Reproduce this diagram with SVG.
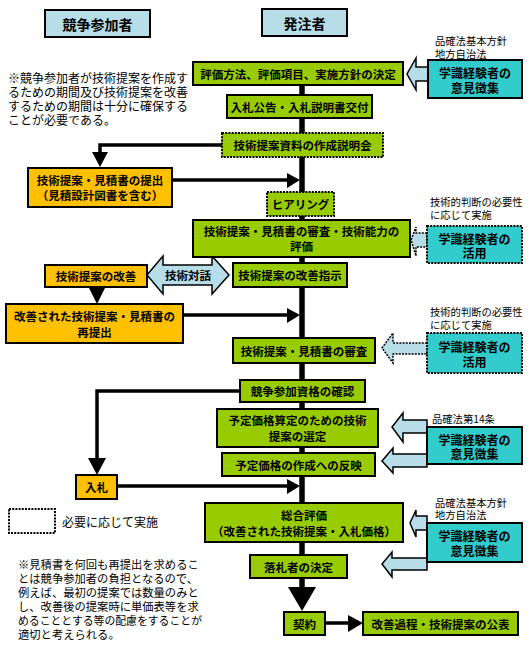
<svg xmlns="http://www.w3.org/2000/svg" width="532" height="650" viewBox="0 0 532 650">
<defs>
<style>
.t{font-family:"Noto Sans CJK JP","Noto Sans CJK SC",sans-serif;fill:#000}
.bt{font-size:11.5px;font-weight:bold;text-anchor:middle;dominant-baseline:central}
.hd{font-size:14px;font-weight:bold;text-anchor:middle;dominant-baseline:central}
.ct{font-size:12px;font-weight:bold;text-anchor:middle;dominant-baseline:central}
.sm{font-size:10.3px}
.nt{font-size:12px}
.nt2{font-size:11.3px}
.g{fill:#99CC00;stroke:#000;stroke-width:2}
.o{fill:#FFC000;stroke:#000;stroke-width:2}
.c{fill:#33CCCC;stroke:#000;stroke-width:2}
.h{fill:#B7DDE8;stroke:#000;stroke-width:2}
.d{stroke-dasharray:2,1.2}
.ba{fill:#B7DDE8;stroke:#000;stroke-width:1.5}
.ln{fill:none;stroke:#000;stroke-width:3.5}
.ah{fill:#000}
</style>
</defs>
<rect width="532" height="650" fill="#fff"/>

<g id="connectors">
<line x1="302" y1="85" x2="302" y2="589" stroke="#000" stroke-width="5.5"/>
<polygon class="ah" points="288,587 316,587 302,611"/>
<path class="ln" d="M222,145 H100 V153" stroke-width="4"/>
<polygon class="ah" points="92,152 108,152 100,167"/>
<path class="ln" d="M172,180 H289"/>
<polygon class="ah" points="287,173 300,180 287,188"/>
<path class="ln" d="M97,287 V290" stroke-width="4"/>
<polygon class="ah" points="89,288 105,288 97,304"/>
<path class="ln" d="M183,315 H289"/>
<polygon class="ah" points="287,308 300,315 287,323"/>
<path class="ln" d="M240,391 H97 V459" stroke-width="4"/>
<polygon class="ah" points="88,458 106,458 97,475"/>
<path class="ln" d="M117,486 H289"/>
<polygon class="ah" points="287,479 300,486 287,494"/>
<path class="ln" d="M325,623 H349"/>
<polygon class="ah" points="348,615 363,623 348,632"/>
<polygon class="ba" points="428,67 416,67 416,58 407,74 416,90 416,81 428,81"/>
<polygon class="ba d" points="427,233 416,233 416,227 411,240 416,256 416,247 427,247"/>
<polygon class="ba d" points="427,343 393,343 393,333 382,348 393,363 393,354 427,354"/>
<polygon class="ba" points="427,420 403,420 403,413 392,427 403,442 403,433 427,433"/>
<polygon class="ba" points="427,454 393,454 393,448 382,461 393,473 393,467 427,467"/>
<polygon class="ba" points="427,516 416,516 416,510 410,523 416,537 416,530 427,530"/>
<polygon class="ba" points="427,558 392,558 392,552 382,564 392,577 392,570 427,570"/>
<polygon class="ba" points="147,275 163,256 163,265 212,265 212,256 229,275 212,294 212,285 163,285 163,294"/>
<text class="t bt" x="188" y="275">技術対話</text>
</g>

<g id="hdr1"><rect class="h" x="45" y="10" width="105" height="27"/><text class="t hd" x="97.5" y="23.5">競争参加者</text></g>
<g id="hdr2"><rect class="h" x="262" y="9" width="85" height="27"/><text class="t hd" x="304.5" y="22.5">発注者</text></g>

<g id="b1"><rect class="g" x="193" y="62" width="210" height="23"/><text class="t bt" x="298" y="73.5">評価方法、評価項目、実施方針の決定</text></g>
<g id="b2"><rect class="g" x="227" y="95" width="145" height="23"/><text class="t bt" x="299.5" y="106.5">入札公告・入札説明書交付</text></g>
<g id="b3"><rect class="g d" x="222" y="133" width="161" height="24"/><text class="t bt" x="302.5" y="145">技術提案資料の作成説明会</text></g>
<g id="b4"><rect class="g d" x="267" y="192" width="67" height="24"/><text class="t bt" x="300.5" y="204">ヒアリング</text></g>
<g id="b5"><rect class="g" x="193" y="220" width="217" height="37"/><text class="t bt" x="301.5" y="231">技術提案・見積書の審査・技術能力の</text><text class="t bt" x="301.5" y="246">評価</text></g>
<g id="b6"><rect class="g" x="233" y="263" width="114" height="24"/><text class="t bt" x="290" y="275">技術提案の改善指示</text></g>
<g id="b7"><rect class="g" x="233" y="338" width="142" height="25"/><text class="t bt" x="304" y="350.5">技術提案・見積書の審査</text></g>
<g id="b8"><rect class="g" x="240" y="380" width="125" height="22"/><text class="t bt" x="302.5" y="391">競争参加資格の確認</text></g>
<g id="b9"><rect class="g" x="217" y="409" width="161" height="38"/><text class="t bt" x="297.5" y="420">予定価格算定のための技術</text><text class="t bt" x="297.5" y="436">提案の選定</text></g>
<g id="b10"><rect class="g" x="222" y="453" width="153" height="23"/><text class="t bt" x="298.5" y="464.5">予定価格の作成への反映</text></g>
<g id="b11"><rect class="g" x="205" y="503" width="198" height="39"/><text class="t bt" x="304" y="514.5">総合評価</text><text class="t bt" x="304" y="530.5">（改善された技術提案・入札価格）</text></g>
<g id="b12"><rect class="g" x="250" y="555" width="97" height="23"/><text class="t bt" x="298.5" y="566.5">落札者の決定</text></g>
<g id="b13"><rect class="g" x="284" y="612" width="41" height="23"/><text class="t bt" x="304.5" y="623.5">契約</text></g>
<g id="b14"><rect class="g" x="363" y="612" width="155" height="23"/><text class="t bt" x="440.5" y="623.5">改善過程・技術提案の公表</text></g>

<g id="o1"><rect class="o" x="28" y="168" width="144" height="39"/><text class="t bt" x="100" y="180">技術提案・見積書の提出</text><text class="t bt" x="100" y="195">（見積設計図書を含む）</text></g>
<g id="o2"><rect class="o" x="45" y="265" width="102" height="22"/><text class="t bt" x="96" y="276">技術提案の改善</text></g>
<g id="o3"><rect class="o" x="6" y="304" width="177" height="39"/><text class="t bt" x="94.5" y="316">改善された技術提案・見積書の</text><text class="t bt" x="94.5" y="332">再提出</text></g>
<g id="o4"><rect class="o" x="76" y="475" width="41" height="24"/><text class="t bt" x="96.5" y="487">入札</text></g>

<g id="c1"><rect class="c" x="428" y="60" width="94" height="38"/><text class="t ct" x="475" y="72.5">学識経験者の</text><text class="t ct" x="475" y="87">意見徴集</text></g>
<g id="c2"><rect class="c d" x="427" y="226" width="95" height="37"/><text class="t ct" x="474.5" y="238">学識経験者の</text><text class="t ct" x="474.5" y="252.5">活用</text></g>
<g id="c3"><rect class="c d" x="427" y="333" width="95" height="40"/><text class="t ct" x="474.5" y="346">学識経験者の</text><text class="t ct" x="474.5" y="361">活用</text></g>
<g id="c4"><rect class="c" x="427" y="427" width="95" height="37"/><text class="t ct" x="474.5" y="439">学識経験者の</text><text class="t ct" x="474.5" y="453.5">意見徴集</text></g>
<g id="c5"><rect class="c" x="427" y="523" width="95" height="39"/><text class="t ct" x="474.5" y="535.5">学識経験者の</text><text class="t ct" x="474.5" y="550.5">意見徴集</text></g>

<g id="notes">
<text class="t sm" x="435" y="45">品確法基本方針</text>
<text class="t sm" x="435" y="57.5">地方自治法</text>
<text class="t sm" x="430" y="206">技術的判断の必要性</text>
<text class="t sm" x="430" y="218.5">に応じて実施</text>
<text class="t sm" x="430" y="316">技術的判断の必要性</text>
<text class="t sm" x="430" y="328.5">に応じて実施</text>
<text class="t sm" x="432" y="423">品確法第14条</text>
<text class="t sm" x="435" y="506.5">品確法基本方針</text>
<text class="t sm" x="435" y="519">地方自治法</text>
<text class="t nt" x="8" y="83">※競争参加者が技術提案を作成す</text>
<text class="t nt" x="8" y="97">るための期間及び技術提案を改善</text>
<text class="t nt" x="8" y="111">するための期間は十分に確保する</text>
<text class="t nt" x="8" y="125">ことが必要である。</text>
<text class="t nt2" x="18" y="569">※見積書を何回も再提出を求めるこ</text>
<text class="t nt2" x="18" y="583">とは競争参加者の負担となるので、</text>
<text class="t nt2" x="18" y="597">例えば、最初の提案では数量のみと</text>
<text class="t nt2" x="18" y="611">し、改善後の提案時に単価表等を求</text>
<text class="t nt2" x="18" y="625" textLength="184" lengthAdjust="spacingAndGlyphs">めることとする等の配慮をすることが</text>
<text class="t nt2" x="18" y="639">適切と考えられる。</text>
</g>

<g id="legend">
<rect x="9" y="509" width="46" height="24" fill="#fff" stroke="#000" stroke-width="2" stroke-dasharray="2,1.2"/>
<text class="t nt" x="62" y="527">必要に応じて実施</text>
</g>
</svg>
